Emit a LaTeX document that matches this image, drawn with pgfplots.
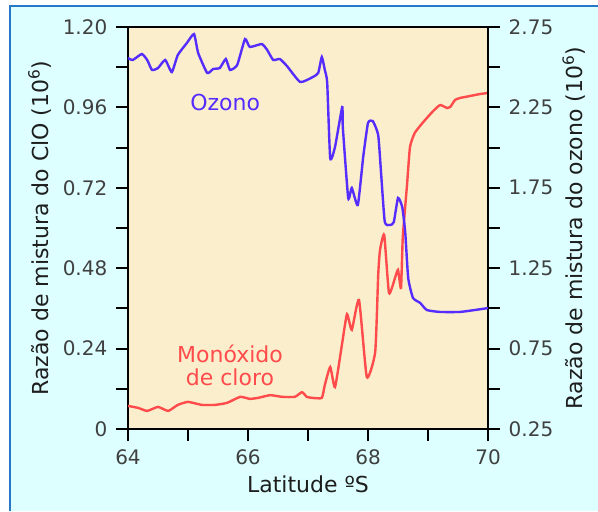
\documentclass[border=0pt]{standalone}
\usepackage{fontspec}
\setmainfont{DejaVu Sans}
\usepackage{pgfplots}
\pgfplotsset{compat=1.18}
\definecolor{bgcyan}{RGB}{221,255,255}
\definecolor{plotbg}{RGB}{250,238,204}
\definecolor{frameblue}{RGB}{40,120,200}
\definecolor{ozblue}{RGB}{85,45,255}
\definecolor{clred}{RGB}{255,75,75}
\definecolor{ticktext}{RGB}{64,64,64}
\definecolor{labtext}{RGB}{30,30,30}

\pgfplotstableread{
lat val
64.00 0.069
64.17 0.063
64.32 0.054
64.50 0.066
64.67 0.054
64.83 0.072
65.00 0.081
65.23 0.072
65.45 0.072
65.65 0.078
65.87 0.096
66.03 0.090
66.17 0.093
66.37 0.101
66.57 0.096
66.78 0.096
66.90 0.110
66.98 0.096
67.07 0.093
67.23 0.093
67.28 0.131
67.37 0.185
67.45 0.125
67.57 0.257
67.65 0.343
67.73 0.296
67.85 0.385
67.98 0.155
68.12 0.230
68.17 0.460
68.20 0.534
68.27 0.579
68.35 0.406
68.45 0.451
68.50 0.475
68.55 0.421
68.58 0.573
68.65 0.728
68.70 0.842
68.78 0.884
68.92 0.916
69.07 0.946
69.20 0.967
69.32 0.958
69.37 0.961
69.45 0.982
69.53 0.988
69.70 0.994
69.87 1.000
70.00 1.003
}\clotable

\pgfplotstableread{
lat val
64.00 2.557
64.08 2.545
64.23 2.582
64.32 2.545
64.40 2.483
64.50 2.495
64.62 2.545
64.73 2.470
64.83 2.576
64.98 2.650
65.10 2.706
65.17 2.588
65.32 2.464
65.42 2.489
65.53 2.495
65.63 2.551
65.70 2.483
65.82 2.514
65.95 2.675
66.03 2.626
66.23 2.644
66.32 2.607
66.42 2.545
66.53 2.551
66.65 2.507
66.87 2.408
67.08 2.439
67.17 2.464
67.23 2.563
67.28 2.483
67.32 2.402
67.37 1.935
67.45 2.004
67.57 2.252
67.58 2.128
67.67 1.687
67.73 1.749
67.83 1.643
67.92 1.942
68.00 2.153
68.08 2.165
68.17 2.078
68.22 1.830
68.28 1.537
68.37 1.519
68.43 1.537
68.50 1.687
68.57 1.631
68.62 1.475
68.67 1.189
68.75 1.065
68.87 1.034
68.98 0.990
69.20 0.978
69.53 0.978
69.78 0.990
70.00 1.002
}\ozotable

\begin{document}
\begin{tikzpicture}
\begin{scope}[x=0.75pt,y=-0.75pt]
\path[use as bounding box, fill=white] (0,0) rectangle (598,511);
\fill[bgcyan] (10,6) rectangle (598,511);
\draw[frameblue, line width=1.1pt] (10,511) -- (10,6) -- (598,6);
\end{scope}

\pgfplotsset{
  common/.style={
    scale only axis, width=270pt, height=301.5pt,
    at={(96pt,-321.75pt)}, anchor=south west,
    xmin=64, xmax=70,
    tick align=outside, major tick length=9pt,
    tick style={line width=1.5pt, black},
    axis line style={line width=2.2pt, black},
    ticklabel style={font=\fontsize{15}{17}\selectfont, text=ticktext},
    label style={font=\fontsize{16.5}{19}\selectfont, text=labtext},
    clip=false,
  }
}

\begin{axis}[common,
  axis background/.style={fill=plotbg},
  ymin=0, ymax=1.2,
  xtick={64,65,66,67,68,69,70}, xticklabels={64,,66,,68,,70},
  ytick={0,0.12,0.24,0.36,0.48,0.6,0.72,0.84,0.96,1.08,1.2},
  yticklabels={0,,0.24,,0.48,,0.72,,0.96,,1.20},
  xtick pos=bottom, ytick pos=left,
  yticklabel style={xshift=-3pt},
  xticklabel style={yshift=-3pt},
  xlabel={Latitude ºS},
  xlabel style={yshift=-1pt},
  ylabel={Razão de mistura do ClO (10\textsuperscript{6})},
  ylabel shift=2pt,
]
\addplot[clred, line width=1.8pt, smooth, tension=0.3] table[x=lat,y=val] {\clotable};
\node[text=ozblue, font=\fontsize{16.5}{19}\selectfont] at (axis cs:65.62,0.975) {Ozono};
\node[text=clred, font=\fontsize{16.5}{17.5}\selectfont, align=center] at (axis cs:65.70,0.191) {Monóxido\\de cloro};
\end{axis}

\begin{axis}[common,
  ymin=0.25, ymax=2.75,
  axis x line=none,
  axis y line*=right,
  ytick={0.25,0.5,0.75,1,1.25,1.5,1.75,2,2.25,2.5,2.75},
  yticklabels={0.25,,0.75,,1.25,,1.75,,2.25,,2.75},
  yticklabel style={xshift=3pt},
  ylabel={Razão de mistura do ozono (10\textsuperscript{6})},
  ylabel shift=0pt,
]
\addplot[ozblue, line width=1.8pt, smooth, tension=0.3] table[x=lat,y=val] {\ozotable};
\end{axis}
\end{tikzpicture}
\end{document}
